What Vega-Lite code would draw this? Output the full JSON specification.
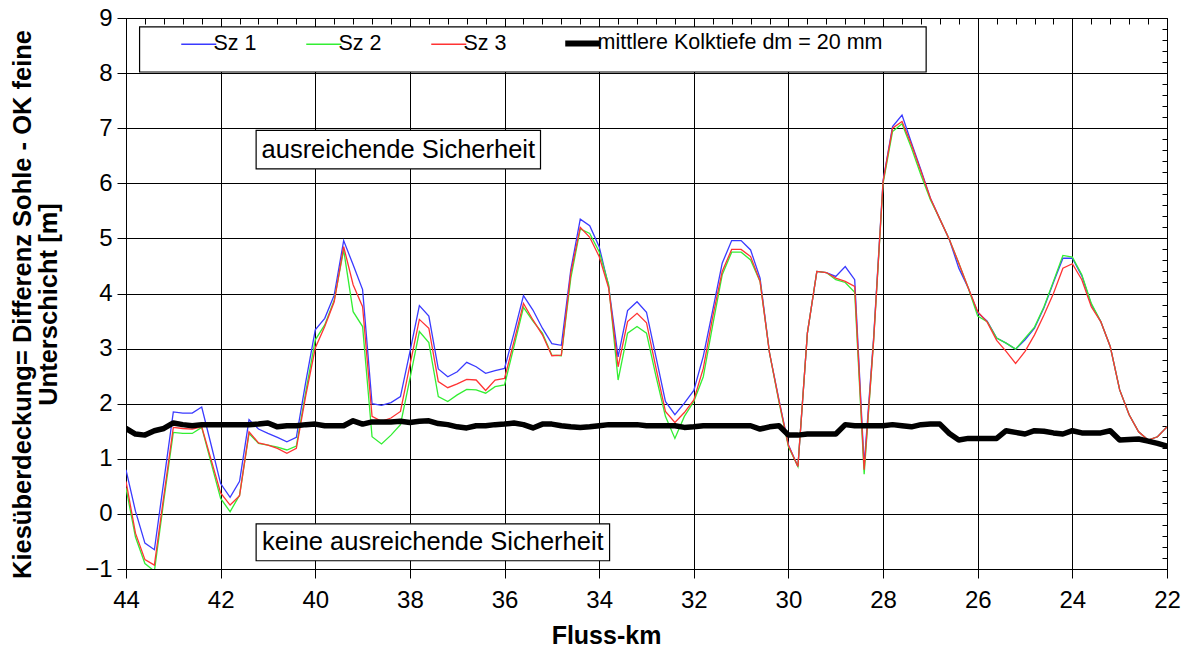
{
  "$schema": "https://vega.github.io/schema/vega-lite/v6.json",
  "width": 1041,
  "height": 551,
  "autosize": {"type": "none"},
  "padding": {"left": 126, "top": 18, "right": 23, "bottom": 79},
  "background": "white",
  "config": {
    "font": "Liberation Sans",
    "view": {"stroke": "#000000", "strokeWidth": 1}
  },
  "datasets": {
    "series": [
      {"km": 44.0, "s1": 0.80, "s2": 0.47, "s3": 0.59, "dm": 1.55},
      {"km": 43.8, "s1": 0.05, "s2": -0.42, "s3": -0.35, "dm": 1.45},
      {"km": 43.6, "s1": -0.53, "s2": -0.90, "s3": -0.83, "dm": 1.43},
      {"km": 43.4, "s1": -0.65, "s2": -1.04, "s3": -0.93, "dm": 1.51},
      {"km": 43.2, "s1": 0.60, "s2": 0.25, "s3": 0.33, "dm": 1.55},
      {"km": 43.0, "s1": 1.85, "s2": 1.48, "s3": 1.57, "dm": 1.65},
      {"km": 42.8, "s1": 1.83, "s2": 1.46, "s3": 1.55, "dm": 1.62},
      {"km": 42.6, "s1": 1.83, "s2": 1.46, "s3": 1.54, "dm": 1.60},
      {"km": 42.4, "s1": 1.94, "s2": 1.57, "s3": 1.58, "dm": 1.62},
      {"km": 42.2, "s1": 1.25, "s2": 0.92, "s3": 0.98, "dm": 1.62},
      {"km": 42.0, "s1": 0.55, "s2": 0.28, "s3": 0.38, "dm": 1.62},
      {"km": 41.8, "s1": 0.30, "s2": 0.04, "s3": 0.16, "dm": 1.62},
      {"km": 41.6, "s1": 0.59, "s2": 0.34, "s3": 0.33, "dm": 1.62},
      {"km": 41.4, "s1": 1.71, "s2": 1.46, "s3": 1.49, "dm": 1.62},
      {"km": 41.2, "s1": 1.54, "s2": 1.28, "s3": 1.29, "dm": 1.63},
      {"km": 41.0, "s1": 1.46, "s2": 1.25, "s3": 1.25, "dm": 1.65},
      {"km": 40.8, "s1": 1.39, "s2": 1.21, "s3": 1.19, "dm": 1.58},
      {"km": 40.6, "s1": 1.31, "s2": 1.16, "s3": 1.10, "dm": 1.60},
      {"km": 40.4, "s1": 1.39, "s2": 1.23, "s3": 1.19, "dm": 1.60},
      {"km": 40.2, "s1": 2.40, "s2": 2.22, "s3": 2.15, "dm": 1.62},
      {"km": 40.0, "s1": 3.34, "s2": 3.16, "s3": 3.01, "dm": 1.63},
      {"km": 39.8, "s1": 3.55, "s2": 3.43, "s3": 3.40, "dm": 1.60},
      {"km": 39.6, "s1": 3.97, "s2": 3.88, "s3": 3.85, "dm": 1.60},
      {"km": 39.4, "s1": 4.96, "s2": 4.79, "s3": 4.85, "dm": 1.60},
      {"km": 39.2, "s1": 4.52, "s2": 3.67, "s3": 4.16, "dm": 1.69},
      {"km": 39.0, "s1": 4.07, "s2": 3.40, "s3": 3.76, "dm": 1.63},
      {"km": 38.8, "s1": 2.00, "s2": 1.40, "s3": 1.77, "dm": 1.67},
      {"km": 38.6, "s1": 1.97, "s2": 1.27, "s3": 1.68, "dm": 1.67},
      {"km": 38.4, "s1": 2.02, "s2": 1.43, "s3": 1.74, "dm": 1.67},
      {"km": 38.2, "s1": 2.13, "s2": 1.62, "s3": 1.86, "dm": 1.68},
      {"km": 38.0, "s1": 2.94, "s2": 2.45, "s3": 2.70, "dm": 1.66},
      {"km": 37.8, "s1": 3.78, "s2": 3.31, "s3": 3.53, "dm": 1.68},
      {"km": 37.6, "s1": 3.59, "s2": 3.11, "s3": 3.37, "dm": 1.69},
      {"km": 37.4, "s1": 2.63, "s2": 2.13, "s3": 2.40, "dm": 1.64},
      {"km": 37.2, "s1": 2.49, "s2": 2.04, "s3": 2.29, "dm": 1.62},
      {"km": 37.0, "s1": 2.58, "s2": 2.16, "s3": 2.36, "dm": 1.58},
      {"km": 36.8, "s1": 2.75, "s2": 2.26, "s3": 2.44, "dm": 1.56},
      {"km": 36.6, "s1": 2.67, "s2": 2.25, "s3": 2.43, "dm": 1.60},
      {"km": 36.4, "s1": 2.55, "s2": 2.19, "s3": 2.24, "dm": 1.60},
      {"km": 36.2, "s1": 2.60, "s2": 2.31, "s3": 2.43, "dm": 1.62},
      {"km": 36.0, "s1": 2.64, "s2": 2.34, "s3": 2.46, "dm": 1.63},
      {"km": 35.8, "s1": 3.28, "s2": 3.04, "s3": 3.13, "dm": 1.65},
      {"km": 35.6, "s1": 3.96, "s2": 3.75, "s3": 3.82, "dm": 1.62},
      {"km": 35.4, "s1": 3.70, "s2": 3.50, "s3": 3.52, "dm": 1.56},
      {"km": 35.2, "s1": 3.37, "s2": 3.28, "s3": 3.25, "dm": 1.63},
      {"km": 35.0, "s1": 3.09, "s2": 2.88, "s3": 2.87, "dm": 1.63},
      {"km": 34.8, "s1": 3.06, "s2": 2.87, "s3": 2.88, "dm": 1.60},
      {"km": 34.6, "s1": 4.43, "s2": 4.28, "s3": 4.37, "dm": 1.58},
      {"km": 34.4, "s1": 5.35, "s2": 5.17, "s3": 5.20, "dm": 1.57},
      {"km": 34.2, "s1": 5.23, "s2": 5.09, "s3": 5.02, "dm": 1.58},
      {"km": 34.0, "s1": 4.85, "s2": 4.76, "s3": 4.67, "dm": 1.60},
      {"km": 33.8, "s1": 4.13, "s2": 4.16, "s3": 4.10, "dm": 1.62},
      {"km": 33.6, "s1": 2.85, "s2": 2.43, "s3": 2.67, "dm": 1.62},
      {"km": 33.4, "s1": 3.69, "s2": 3.28, "s3": 3.49, "dm": 1.62},
      {"km": 33.2, "s1": 3.85, "s2": 3.40, "s3": 3.64, "dm": 1.62},
      {"km": 33.0, "s1": 3.66, "s2": 3.28, "s3": 3.47, "dm": 1.60},
      {"km": 32.8, "s1": 2.85, "s2": 2.50, "s3": 2.65, "dm": 1.60},
      {"km": 32.6, "s1": 2.04, "s2": 1.77, "s3": 1.86, "dm": 1.60},
      {"km": 32.4, "s1": 1.80, "s2": 1.37, "s3": 1.66, "dm": 1.60},
      {"km": 32.2, "s1": 2.01, "s2": 1.77, "s3": 1.84, "dm": 1.57},
      {"km": 32.0, "s1": 2.24, "s2": 2.04, "s3": 2.07, "dm": 1.58},
      {"km": 31.8, "s1": 2.86, "s2": 2.49, "s3": 2.64, "dm": 1.60},
      {"km": 31.6, "s1": 3.70, "s2": 3.43, "s3": 3.58, "dm": 1.60},
      {"km": 31.4, "s1": 4.55, "s2": 4.34, "s3": 4.40, "dm": 1.60},
      {"km": 31.2, "s1": 4.96, "s2": 4.75, "s3": 4.80, "dm": 1.60},
      {"km": 31.0, "s1": 4.96, "s2": 4.75, "s3": 4.80, "dm": 1.60},
      {"km": 30.8, "s1": 4.79, "s2": 4.61, "s3": 4.67, "dm": 1.60},
      {"km": 30.6, "s1": 4.28, "s2": 4.22, "s3": 4.22, "dm": 1.54},
      {"km": 30.4, "s1": 2.92, "s2": 2.92, "s3": 2.92, "dm": 1.58},
      {"km": 30.2, "s1": 2.07, "s2": 2.03, "s3": 2.05, "dm": 1.60},
      {"km": 30.0, "s1": 1.25, "s2": 1.22, "s3": 1.24, "dm": 1.43},
      {"km": 29.8, "s1": 0.86, "s2": 0.86, "s3": 0.86, "dm": 1.43},
      {"km": 29.6, "s1": 3.28, "s2": 3.28, "s3": 3.28, "dm": 1.45},
      {"km": 29.4, "s1": 4.40, "s2": 4.40, "s3": 4.40, "dm": 1.45},
      {"km": 29.2, "s1": 4.38, "s2": 4.38, "s3": 4.38, "dm": 1.45},
      {"km": 29.0, "s1": 4.31, "s2": 4.25, "s3": 4.28, "dm": 1.45},
      {"km": 28.8, "s1": 4.49, "s2": 4.20, "s3": 4.22, "dm": 1.62},
      {"km": 28.6, "s1": 4.25, "s2": 4.02, "s3": 4.13, "dm": 1.60},
      {"km": 28.4, "s1": 0.88, "s2": 0.72, "s3": 0.80, "dm": 1.60},
      {"km": 28.2, "s1": 3.20, "s2": 3.15, "s3": 3.15, "dm": 1.60},
      {"km": 28.0, "s1": 6.05, "s2": 6.00, "s3": 6.03, "dm": 1.60},
      {"km": 27.8, "s1": 7.03, "s2": 6.94, "s3": 7.00, "dm": 1.62},
      {"km": 27.6, "s1": 7.24, "s2": 7.08, "s3": 7.12, "dm": 1.60},
      {"km": 27.4, "s1": 6.73, "s2": 6.64, "s3": 6.70, "dm": 1.58},
      {"km": 27.2, "s1": 6.24, "s2": 6.15, "s3": 6.22, "dm": 1.62},
      {"km": 27.0, "s1": 5.73, "s2": 5.70, "s3": 5.73, "dm": 1.63},
      {"km": 26.8, "s1": 5.35, "s2": 5.35, "s3": 5.35, "dm": 1.63},
      {"km": 26.6, "s1": 4.98, "s2": 4.98, "s3": 4.98, "dm": 1.46},
      {"km": 26.4, "s1": 4.46, "s2": 4.55, "s3": 4.55, "dm": 1.34},
      {"km": 26.2, "s1": 4.10, "s2": 4.10, "s3": 4.10, "dm": 1.37},
      {"km": 26.0, "s1": 3.65, "s2": 3.59, "s3": 3.67, "dm": 1.37},
      {"km": 25.8, "s1": 3.50, "s2": 3.49, "s3": 3.48, "dm": 1.37},
      {"km": 25.6, "s1": 3.19, "s2": 3.19, "s3": 3.15, "dm": 1.37},
      {"km": 25.4, "s1": 3.10, "s2": 3.10, "s3": 2.95, "dm": 1.51},
      {"km": 25.2, "s1": 2.99, "s2": 2.99, "s3": 2.73, "dm": 1.48},
      {"km": 25.0, "s1": 3.16, "s2": 3.19, "s3": 2.95, "dm": 1.45},
      {"km": 24.8, "s1": 3.37, "s2": 3.39, "s3": 3.25, "dm": 1.51},
      {"km": 24.6, "s1": 3.74, "s2": 3.76, "s3": 3.61, "dm": 1.50},
      {"km": 24.4, "s1": 4.20, "s2": 4.22, "s3": 4.00, "dm": 1.47},
      {"km": 24.2, "s1": 4.64, "s2": 4.69, "s3": 4.46, "dm": 1.45},
      {"km": 24.0, "s1": 4.64, "s2": 4.66, "s3": 4.54, "dm": 1.51},
      {"km": 23.8, "s1": 4.32, "s2": 4.34, "s3": 4.25, "dm": 1.47},
      {"km": 23.6, "s1": 3.80, "s2": 3.82, "s3": 3.76, "dm": 1.47},
      {"km": 23.4, "s1": 3.49, "s2": 3.49, "s3": 3.49, "dm": 1.47},
      {"km": 23.2, "s1": 3.04, "s2": 3.04, "s3": 3.04, "dm": 1.51},
      {"km": 23.0, "s1": 2.25, "s2": 2.25, "s3": 2.25, "dm": 1.34},
      {"km": 22.8, "s1": 1.80, "s2": 1.80, "s3": 1.80, "dm": 1.35},
      {"km": 22.6, "s1": 1.49, "s2": 1.49, "s3": 1.49, "dm": 1.36},
      {"km": 22.4, "s1": 1.34, "s2": 1.34, "s3": 1.34, "dm": 1.32},
      {"km": 22.2, "s1": 1.40, "s2": 1.40, "s3": 1.40, "dm": 1.28},
      {"km": 22.0, "s1": 1.58, "s2": 1.58, "s3": 1.58, "dm": 1.23}
    ],
    "boxes": [
      {"x1": 43.713, "x2": 27.09, "y1": 8.838, "y2": 8.02},
      {"x1": 41.25, "x2": 35.24, "y1": 6.96, "y2": 6.26},
      {"x1": 41.25, "x2": 33.78, "y1": -0.18, "y2": -0.85}
    ],
    "notes": [
      {"x": 38.245, "y": 6.61, "label": "ausreichende Sicherheit"},
      {"x": 37.515, "y": -0.515, "label": "keine ausreichende Sicherheit"}
    ]
  },
  "resolve": {"axis": {"x": "independent", "y": "independent"}},
  "layer": [
    {
      "data": {"name": "boxes"},
      "mark": {"type": "rect", "fill": "white", "stroke": "#000000", "strokeWidth": 1.2},
      "encoding": {
        "x": {"field": "x1", "type": "quantitative", "scale": {"domain": [44, 22], "nice": false, "zero": false}, "axis": null},
        "x2": {"field": "x2"},
        "y": {"field": "y1", "type": "quantitative", "scale": {"domain": [-1, 9], "nice": false, "zero": false}, "axis": null},
        "y2": {"field": "y2"}
      }
    },
    {
      "data": {"name": "series"},
      "transform": [{"fold": ["s1", "s2", "s3", "dm"], "as": ["series", "value"]}, {"filter": "datum.series == 's1'"}],
      "mark": {"type": "line", "clip": true, "strokeWidth": 1.3},
      "encoding": {
        "x": {
          "field": "km", "type": "quantitative",
          "axis": {
            "values": [44, 42, 40, 38, 36, 34, 32, 30, 28, 26, 24, 22],
            "format": "d",
            "grid": true, "gridColor": "#000000", "gridOpacity": 1, "gridWidth": 1,
            "tickColor": "#000000", "tickSize": 9, "tickWidth": 1,
            "domainColor": "#000000", "domainWidth": 1,
            "labelFontSize": 24, "labelColor": "#000000", "labelPadding": 10,
            "labelFlush": false, "labelOverlap": false,
            "title": "Fluss-km", "titleFontSize": 25, "titleFontWeight": "bold", "titleColor": "#000000",
            "titleX": 480, "titleY": 74, "titleBaseline": "alphabetic", "titleAlign": "center"
          }
        },
        "y": {
          "field": "value", "type": "quantitative",
          "axis": {
            "values": [-1, 0, 1, 2, 3, 4, 5, 6, 7, 8, 9],
            "format": "d",
            "grid": true, "gridColor": "#000000", "gridOpacity": 1, "gridWidth": 1,
            "tickColor": "#000000", "tickSize": 9, "tickWidth": 1,
            "domainColor": "#000000", "domainWidth": 1,
            "labelFontSize": 24, "labelColor": "#000000", "labelPadding": 5,
            "labelOverlap": false,
            "title": ["Kiesüberdeckung= Differenz Sohle - OK feine", "Unterschicht [m]"],
            "titleFontSize": 25.5, "titleFontWeight": "bold", "titleColor": "#000000",
            "titleAngle": -90, "titleX": -104, "titleY": 286, "titleBaseline": "middle", "titleAlign": "center", "titleLineHeight": 26
          }
        },
        "color": {
          "field": "series", "type": "nominal",
          "scale": {"domain": ["s1", "s2", "s3", "dm"], "range": ["#3a3aff", "#33ee33", "#ff3333", "#000000"]},
          "legend": {
            "orient": "none", "legendX": 62, "legendY": 14.5, "direction": "horizontal",
            "title": null, "padding": 0, "symbolType": "stroke", "symbolSize": 1225,
            "labelFontSize": 21.5, "labelColor": "#000000", "labelOffset": 4, "columnPadding": 46, "labelLimit": 500,
            "labelExpr": "datum.value == 's1' ? 'Sz 1' : datum.value == 's2' ? 'Sz 2' : datum.value == 's3' ? 'Sz 3' : 'mittlere Kolktiefe dm = 20 mm'",
            "encode": {"symbols": {"update": {"strokeWidth": {"signal": "datum.value == 'dm' ? 6 : 1.5"}}}}
          }
        }
      }
    },
    {
      "data": {"name": "series"},
      "transform": [{"fold": ["s1", "s2", "s3", "dm"], "as": ["series", "value"]}, {"filter": "datum.series == 's2'"}],
      "mark": {"type": "line", "clip": true, "strokeWidth": 1.3},
      "encoding": {
        "x": {
          "field": "km", "type": "quantitative",
          "axis": {
            "values": [44, 43.6, 43.2, 42.8, 42.4, 42, 41.6, 41.2, 40.8, 40.4, 40, 39.6, 39.2, 38.8, 38.4, 38, 37.6, 37.2, 36.8, 36.4, 36, 35.6, 35.2, 34.8, 34.4, 34, 33.6, 33.2, 32.8, 32.4, 32, 31.6, 31.2, 30.8, 30.4, 30, 29.6, 29.2, 28.8, 28.4, 28, 27.6, 27.2, 26.8, 26.4, 26, 25.6, 25.2, 24.8, 24.4, 24, 23.6, 23.2, 22.8, 22.4, 22],
            "labels": false, "domain": false, "grid": false,
            "tickColor": "#000000", "tickSize": -6, "tickWidth": 1, "title": null
          }
        },
        "y": {
          "field": "value", "type": "quantitative",
          "axis": {
            "values": [-0.8, -0.6, -0.4, -0.2, 0.2, 0.4, 0.6, 0.8, 1.2, 1.4, 1.6, 1.8, 2.2, 2.4, 2.6, 2.8, 3.2, 3.4, 3.6, 3.8, 4.2, 4.4, 4.6, 4.8, 5.2, 5.4, 5.6, 5.8, 6.2, 6.4, 6.6, 6.8, 7.2, 7.4, 7.6, 7.8, 8.2, 8.4, 8.6, 8.8],
            "labels": false, "domain": false, "grid": false,
            "tickColor": "#000000", "tickSize": -5, "tickWidth": 1, "title": null
          }
        },
        "color": {"field": "series", "type": "nominal"}
      }
    },
    {
      "data": {"name": "series"},
      "transform": [{"fold": ["s1", "s2", "s3", "dm"], "as": ["series", "value"]}, {"filter": "datum.series == 's3'"}],
      "mark": {"type": "line", "clip": true, "strokeWidth": 1.3},
      "encoding": {
        "x": {"field": "km", "type": "quantitative", "axis": null},
        "y": {"field": "value", "type": "quantitative", "axis": null},
        "color": {"field": "series", "type": "nominal"}
      }
    },
    {
      "data": {"name": "series"},
      "transform": [{"fold": ["s1", "s2", "s3", "dm"], "as": ["series", "value"]}, {"filter": "datum.series == 'dm'"}],
      "mark": {"type": "line", "clip": true, "strokeWidth": 5.5, "strokeJoin": "round", "strokeCap": "round"},
      "encoding": {
        "x": {"field": "km", "type": "quantitative", "axis": null},
        "y": {"field": "value", "type": "quantitative", "axis": null},
        "color": {"field": "series", "type": "nominal"}
      }
    },
    {
      "data": {"name": "notes"},
      "mark": {"type": "text", "fontSize": 25.5, "color": "#000000", "align": "center", "baseline": "middle"},
      "encoding": {
        "x": {"field": "x", "type": "quantitative", "axis": null},
        "y": {"field": "y", "type": "quantitative", "axis": null},
        "text": {"field": "label"}
      }
    }
  ]
}
